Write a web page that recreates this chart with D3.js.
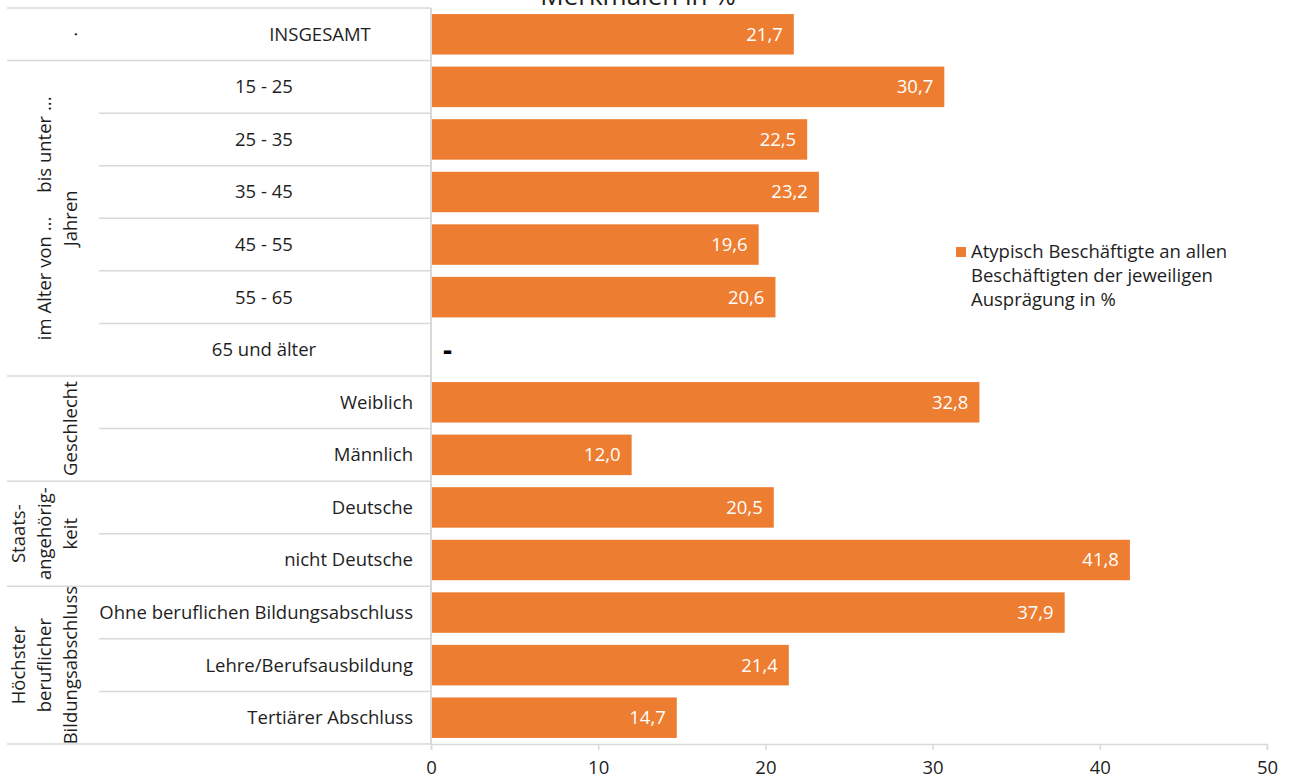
<!DOCTYPE html>
<html>
<head>
<meta charset="utf-8">
<script src="https://cdn.jsdelivr.net/npm/d3@7/dist/d3.min.js"></script>
<style>
  html, body { margin: 0; padding: 0; background: #fff; }
  svg { display: block; font-family: "Open Sans", "Noto Sans", sans-serif; }
</style>
</head>
<body>
<svg id="chart" width="1293" height="778"></svg>
<script>
// Category rows (top to bottom)
const categories = [
  "INSGESAMT",
  "15 - 25", "25 - 35", "35 - 45", "45 - 55", "55 - 65", "65 und älter",
  "Weiblich", "Männlich",
  "Deutsche", "nicht Deutsche",
  "Ohne beruflichen Bildungsabschluss", "Lehre/Berufsausbildung", "Tertiärer Abschluss"
];
// Atypically employed share per row, in %; null = no value ("-")
const values = [21.7, 30.7, 22.5, 23.2, 19.6, 20.6, null, 32.8, 12.0, 20.5, 41.8, 37.9, 21.4, 14.7];
// Outer category groups: label lines and number of rows in each
const groupLabels = [
  ["."],
  ["im Alter von ...     bis unter ...", "Jahren"],
  ["Geschlecht"],
  ["Staats-", "angehörig-", "keit"],
  ["Höchster", "beruflicher", "Bildungsabschluss"]
];
const groupSizes = [1, 6, 2, 2, 3];
const xTicks = [0, 10, 20, 30, 40, 50];
const seriesName = ["Atypisch Beschäftigte an allen", "Beschäftigten der jeweiligen", "Ausprägung in %"];
const titleText = "Merkmalen in %";

const svg = d3.select("#chart");
const barColor = "#ED7D31";
const gridColor = "#d9d9d9";
const textColor = "#1e1e1e";
const fontSize = 18.5;

const plotLeft = 431, plotRight = 1267, plotTop = 8, plotBottom = 744;
const labelLeft = 7, innerLeft = 99;

const x = d3.scaleLinear().domain([0, 50]).range([plotLeft, plotRight]);
const y = d3.scaleBand().domain(d3.range(categories.length)).range([plotTop, plotBottom])
  .paddingInner(0.23).paddingOuter(0.115);
const step = y.step();

// Title (its upper part lies above the drawing area)
svg.append("text").attr("x", 638).attr("y", 5).attr("text-anchor", "middle")
  .attr("font-size", 26).attr("fill", textColor).text(titleText);

// Row separators in the category area
const groupStarts = [];
let acc = 0;
groupSizes.forEach(s => { groupStarts.push(acc); acc += s; });
const boundaries = d3.range(categories.length + 1);
svg.append("g").selectAll("line").data(boundaries).join("line")
  .attr("x1", i => (groupStarts.includes(i) || i === categories.length) ? labelLeft : innerLeft)
  .attr("x2", plotLeft)
  .attr("y1", i => plotTop + i * step).attr("y2", i => plotTop + i * step)
  .attr("stroke", gridColor).attr("stroke-width", 1.5);

// Bars
svg.append("g").selectAll("rect").data(values.map((v, i) => ({ v, i })).filter(d => d.v !== null))
  .join("rect")
  .attr("x", x(0)).attr("y", d => y(d.i))
  .attr("width", d => x(d.v) - x(0)).attr("height", y.bandwidth())
  .attr("fill", barColor);

// Value labels
const fmt = v => d3.format(".1f")(v).replace(".", ",");
svg.append("g").selectAll("text").data(values.map((v, i) => ({ v, i })))
  .join("text")
  .attr("x", d => d.v === null ? x(0) + 12 : x(d.v) - 11)
  .attr("y", d => y(d.i) + y.bandwidth() / 2)
  .attr("dy", "0.35em")
  .attr("text-anchor", d => d.v === null ? "start" : "end")
  .attr("font-size", d => d.v === null ? 28 : fontSize)
  .attr("font-weight", d => d.v === null ? "bold" : "normal")
  .attr("fill", d => d.v === null ? "#000" : "#fff")
  .text(d => d.v === null ? "-" : fmt(d.v));

// Category labels
function labelAnchor(i) {
  if (i === 0) return { x: 320, a: "middle" };
  if (i >= 1 && i <= 6) return { x: 264, a: "middle" };
  return { x: 413, a: "end" };
}
svg.append("g").selectAll("text").data(categories).join("text")
  .attr("x", (d, i) => labelAnchor(i).x)
  .attr("y", (d, i) => y(i) + y.bandwidth() / 2)
  .attr("dy", "0.35em")
  .attr("text-anchor", (d, i) => labelAnchor(i).a)
  .attr("font-size", fontSize).attr("fill", textColor)
  .text(d => d);

// Group labels (rotated, stacked towards the category column)
groupLabels.forEach((lines, g) => {
  const yc = plotTop + (groupStarts[g] + groupSizes[g] / 2) * step;
  lines.forEach((line, k) => {
    const xc = 71 - (lines.length - 1 - k) * 26;
    svg.append("text")
      .attr("transform", `translate(${xc},${yc}) rotate(-90)`)
      .attr("text-anchor", "middle").attr("dy", "0.35em")
      .attr("font-size", fontSize).attr("fill", textColor)
      .style("white-space", "pre")
      .text(line);
  });
});

// Value axis
const xAxis = svg.append("g").attr("transform", `translate(0,${plotBottom})`)
  .call(d3.axisBottom(x).tickValues(xTicks).tickSize(6).tickPadding(11).tickFormat(d3.format("d")));
xAxis.select(".domain").attr("stroke", gridColor).attr("stroke-width", 1.5);
xAxis.selectAll(".tick line").attr("stroke", gridColor).attr("stroke-width", 1.5);
xAxis.selectAll(".tick text").attr("font-size", fontSize).attr("fill", textColor)
  .attr("font-family", "\"Open Sans\", sans-serif");

// Category axis line
svg.append("line").attr("x1", plotLeft).attr("x2", plotLeft).attr("y1", plotTop).attr("y2", plotBottom)
  .attr("stroke", gridColor).attr("stroke-width", 2);

// Legend
const lg = svg.append("g").attr("transform", "translate(956,247)");
lg.append("rect").attr("width", 10).attr("height", 10).attr("fill", barColor);
lg.selectAll("text").data(seriesName).join("text")
  .attr("x", 15).attr("y", (d, i) => 5 + i * 24).attr("dy", "0.35em")
  .attr("font-size", fontSize).attr("fill", textColor).text(d => d);
</script>
</body>
</html>
